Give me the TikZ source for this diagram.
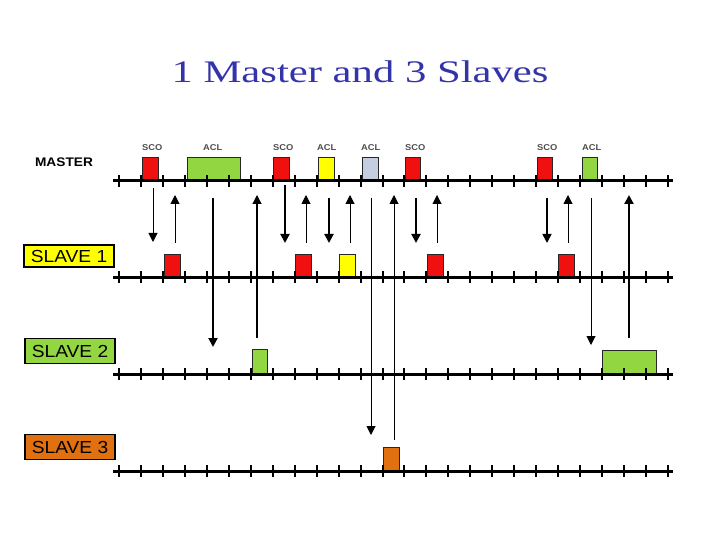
\documentclass[tikz,border=0pt]{standalone}
\usepackage{fontspec}
\usepackage{graphicx}
\setmainfont{Liberation Serif}
\setsansfont{Liberation Sans}
\usetikzlibrary{arrows.meta}
\definecolor{titleblue}{RGB}{51,51,170}
\definecolor{pred}{RGB}{240,16,16}
\definecolor{pgreen}{RGB}{146,214,66}
\definecolor{pyellow}{RGB}{255,255,0}
\definecolor{pgrey}{RGB}{196,206,224}
\definecolor{porange}{RGB}{224,112,16}
\begin{document}
\begin{tikzpicture}[x=1bp,y=-1bp,
  pkt/.style={draw=black!85,line width=0.8bp,inner sep=0pt,anchor=south west,minimum width=16bp,minimum height=23bp},
  tline/.style={line width=3bp},
  tickmark/.style={line width=2bp},
  pktlbl/.style={anchor=base west,inner sep=0pt,font=\sffamily\bfseries\fontsize{8.5}{8.5}\selectfont,text=black!70},
  slavebox/.style={draw=black,line width=1.2bp,minimum width=90bp,minimum height=24bp,inner sep=0pt,font=\sffamily\fontsize{17.5}{17.5}\selectfont},
  arr/.style={-{Triangle[width=9bp,length=9bp]},line width=1bp},
  thk/.style={line width=2bp}]
\useasboundingbox (0,0) rectangle (720,540);

% title
\node[anchor=base,text=titleblue,font=\fontsize{31.5}{36}\selectfont,inner sep=0pt] (title) at (360,83) {\scalebox{1.36}[1]{1 Master and 3 Slaves}};

% labels
\node[anchor=base,inner sep=0pt,font=\sffamily\bfseries\fontsize{12.5}{12.5}\selectfont] (master) at (64,167) {\scalebox{1.1}[1]{MASTER}};
\node[slavebox,fill=pyellow,minimum height=22bp] (s1) at (69,256) {\scalebox{1.1}[1]{SLAVE 1}};
\node[slavebox,fill=pgreen,minimum height=25bp] (s2) at (70,351) {\scalebox{1.1}[1]{SLAVE 2}};
\node[slavebox,fill=porange,minimum height=25bp] (s3) at (70,447) {\scalebox{1.1}[1]{SLAVE 3}};

% master packets
\node[pkt,fill=pred] (m1) at (142,181) {};
\node[pkt,fill=pgreen,minimum width=53bp] (m2) at (187,181) {};
\node[pkt,fill=pred] (m3) at (273,181) {};
\node[pkt,fill=pyellow] (m4) at (318,181) {};
\node[pkt,fill=pgrey] (m5) at (362,181) {};
\node[pkt,fill=pred,minimum width=15bp] (m6) at (405,181) {};
\node[pkt,fill=pred,minimum width=15bp] (m7) at (537,181) {};
\node[pkt,fill=pgreen,minimum width=15bp] (m8) at (582,181) {};
\node[pktlbl] (l1) at (142,151) {\scalebox{1.1}[1]{SCO}};
\node[pktlbl] (l2) at (203,151) {\scalebox{1.1}[1]{ACL}};
\node[pktlbl] (l3) at (273,151) {\scalebox{1.1}[1]{SCO}};
\node[pktlbl] (l4) at (317,151) {\scalebox{1.1}[1]{ACL}};
\node[pktlbl] (l5) at (361,151) {\scalebox{1.1}[1]{ACL}};
\node[pktlbl] (l6) at (405,151) {\scalebox{1.1}[1]{SCO}};
\node[pktlbl] (l7) at (537,151) {\scalebox{1.1}[1]{SCO}};
\node[pktlbl] (l8) at (582,151) {\scalebox{1.1}[1]{ACL}};

% slave 1 packets
\node[pkt,fill=pred,minimum height=22bp] (a1) at (164,277) {};
\node[pkt,fill=pred,minimum height=22bp] (a2) at (295,277) {};
\node[pkt,fill=pyellow,minimum height=22bp] (a3) at (339,277) {};
\node[pkt,fill=pred,minimum height=22bp] (a4) at (427,277) {};
\node[pkt,fill=pred,minimum height=22bp] (a5) at (558,277) {};
% slave 2 packets
\node[pkt,fill=pgreen,minimum width=15bp,minimum height=24bp] (b1) at (252,374) {};
\node[pkt,fill=pgreen,minimum width=54bp,minimum height=23bp] (b2) at (602,374) {};
% slave 3 packet
\node[pkt,fill=porange,minimum height=23bp,line width=1.2bp] (c1) at (383,471) {};

% timelines
\foreach \y in {181,277,374,471}{
  \draw[tline] (113,\y) -- (673,\y);
  \foreach \i in {0,...,25}{
    \draw[tickmark] ({119+21.96*\i},\y-6) -- ({119+21.96*\i},\y+6);
  }
}

% arrows: name / x / start y / end y / width
\foreach \n/\x/\a/\b/\w in {
  d1/153/188/242/1, d2/285/185/243/2, d3/329/198/243/2, d4/416/198/243/2, d5/547/198/243/1.6,
  e1/213/198/347/2, e2/371/198/435/1, e3/591/198/345/1,
  u1/175/243/195/1, u2/257/338/195/1.2, u3/306/243/195/1, u4/350/243/195/1,
  u5/394/440/195/1, u6/437/243/195/1, u7/568/243/195/1, u8/629/338/195/2}{
  \coordinate (\n s) at (\x,\a);
  \coordinate (\n e) at (\x,\b);
  \draw[arr,line width=\w bp] (\n s) -- (\n e);
}
\end{tikzpicture}
\end{document}
